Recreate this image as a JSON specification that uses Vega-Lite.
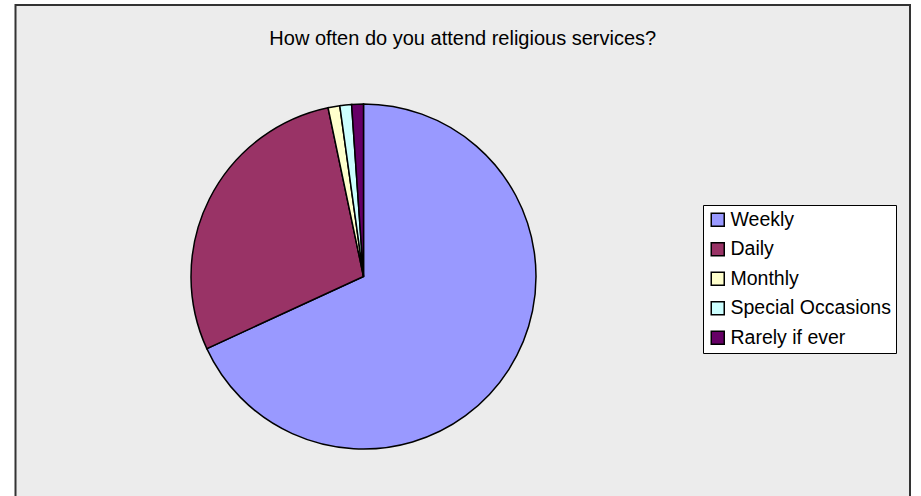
{
  "$schema": "https://vega.github.io/schema/vega-lite/v6.json",
  "autosize": {"type": "fit", "contains": "padding"},
  "width": 921,
  "height": 496,
  "padding": {"left": 14.5, "top": 4, "right": 10, "bottom": -6},
  "background": "white",
  "title": {
    "text": "How often do you attend religious services?",
    "anchor": "middle",
    "frame": "group",
    "orient": "top",
    "baseline": "alphabetic",
    "offset": -61,
    "font": "Liberation Sans",
    "fontSize": 20,
    "fontWeight": "normal",
    "color": "black"
  },
  "datasets": {
    "frame": [{"panel": "chart area"}],
    "answers": [
      {"category": "Weekly", "count": 62, "order": 1},
      {"category": "Daily", "count": 26, "order": 2},
      {"category": "Monthly", "count": 1, "order": 3},
      {"category": "Special Occasions", "count": 1, "order": 4},
      {"category": "Rarely if ever", "count": 1, "order": 5}
    ]
  },
  "layer": [
    {
      "data": {"name": "frame"},
      "mark": {"type": "rect", "fill": "#ECECEC", "stroke": "#333333", "strokeWidth": 2},
      "encoding": {}
    },
    {
      "data": {"name": "answers"},
      "mark": {
        "type": "arc",
        "x": 348,
        "y": 271.5,
        "outerRadius": 172.5,
        "stroke": "black",
        "strokeWidth": 1.5
      },
      "encoding": {
        "theta": {"field": "count", "type": "quantitative", "stack": true},
        "order": {"field": "order", "type": "quantitative"},
        "color": {
          "field": "category",
          "type": "nominal",
          "sort": ["Weekly", "Daily", "Monthly", "Special Occasions", "Rarely if ever"],
          "scale": {
            "domain": ["Weekly", "Daily", "Monthly", "Special Occasions", "Rarely if ever"],
            "range": ["#9999FF", "#993366", "#FFFFCC", "#CCFFFF", "#660066"]
          },
          "legend": {
            "title": null,
            "orient": "none",
            "legendX": 687.5,
            "legendY": 200,
            "strokeColor": "black",
            "fillColor": "white",
            "padding": 5,
            "symbolType": "square",
            "symbolSize": 169,
            "symbolStrokeColor": "black",
            "symbolStrokeWidth": 1.5,
            "labelFont": "Liberation Sans",
            "labelFontSize": 19.5,
            "labelColor": "black",
            "labelOffset": 3,
            "labelLimit": 300,
            "rowPadding": 8.5
          }
        }
      }
    }
  ],
  "config": {
    "view": {"stroke": null}
  }
}
